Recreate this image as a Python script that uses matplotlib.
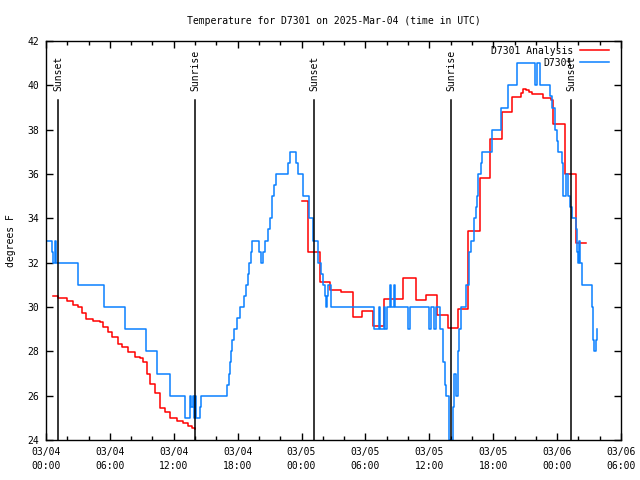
import matplotlib
matplotlib.use("Agg")
import matplotlib.pyplot as plt
import matplotlib.transforms as mtransforms
import numpy as np

plt.rcParams['font.family'] = ['DejaVu Sans Mono']
plt.rcParams['font.size'] = 7

# hours since 03/04 00:00 UTC
obs_hours = [0.09, 0.59, 0.69, 0.85, 0.94, 3.05, 5.40, 7.42, 9.39, 10.47, 11.65, 13.10, 13.52, 13.66,
             13.81, 13.90, 14.04, 14.13, 14.42, 14.56, 16.97, 17.14, 17.28, 17.37, 17.47, 17.68, 17.94,
             18.22, 18.60, 18.78, 18.97, 19.11, 19.21, 19.30, 20.00, 20.19, 20.38, 20.57, 20.85, 21.04,
             21.18, 21.37, 21.60, 22.68, 22.92, 23.48, 23.62, 24.14, 24.70, 25.03, 25.54, 25.78, 25.97,
             26.20, 26.30, 26.39, 26.53, 26.72, 30.85, 31.32, 31.41, 31.74, 31.83, 32.02, 32.31, 32.40,
             32.64, 32.82, 33.95, 34.14, 35.97, 36.16, 36.44, 36.58, 36.96, 37.24, 37.33, 37.43, 37.52,
             37.89, 38.18, 38.32, 38.46, 38.65, 38.79, 38.93, 39.49, 39.68, 39.87, 40.15, 40.34, 40.45,
             40.60, 40.81, 40.92, 41.93, 42.73, 43.42, 44.19, 45.92, 46.07, 46.35, 47.33, 47.49, 47.80,
             47.99, 48.11, 48.46, 48.58, 48.83, 49.05, 49.21, 49.37, 49.73, 49.84, 49.99, 50.06, 50.15,
             50.31, 51.23, 51.34, 51.47, 51.61, 51.78]
obs_temps = [33, 32.5, 32, 33, 32, 31, 30, 29, 28, 27, 26, 25, 26, 25.5,
             26, 25, 26, 25, 25.5, 26, 26.5, 27, 27.5, 28, 28.5, 29, 29.5,
             30, 30.5, 31, 31.5, 32, 32.5, 33, 32.5, 32, 32.5, 33, 33.5, 34,
             35, 35.5, 36, 36.5, 37, 36.5, 36, 35, 34, 33, 32, 31.5, 31,
             30.5, 30, 30.5, 31, 30, 29, 30, 29, 30, 29, 30, 31, 30,
             31, 30, 29, 30, 29, 30, 29, 30, 29, 28.5, 27.5, 26.5, 26,
             24, 25.5, 27, 26, 28, 29, 30, 31, 32.5, 33, 34, 34.5, 35,
             36, 36.5, 37, 38, 39, 40, 41, 40, 41, 40, 39.5, 39, 38,
             37.5, 37, 36.5, 35, 36, 35, 34.5, 34, 33.5, 32.5, 32, 33, 32,
             31, 30, 28.5, 28, 28.5, 29]

ana_hours = [0.63, 1.16, 1.94, 2.56, 3.03, 3.35, 3.76, 4.44, 5.07, 5.38, 5.85, 6.17, 6.73, 7.11,
             7.73, 8.36, 8.83, 9.14, 9.46, 9.77, 10.24, 10.71, 11.18, 11.65, 12.27, 12.89, 13.36,
             13.68, 13.99, 14.00,
             24.04, 24.63, 25.73, 26.67, 27.68, 28.80, 29.71, 30.68, 31.77, 33.56, 34.72, 35.66,
             36.69, 37.78, 38.72, 39.66, 40.74, 41.74, 42.80, 43.81, 44.61, 44.75, 45.08, 45.39,
             45.61, 46.70, 47.43, 47.65, 48.74, 49.73, 50.71]
ana_temps = [30.5, 30.4, 30.29, 30.09, 29.99, 29.72, 29.45, 29.38, 29.34, 29.11, 28.89, 28.66, 28.33, 28.21,
             27.96, 27.76, 27.69, 27.54, 27.0, 26.53, 26.1, 25.46, 25.28, 24.98, 24.87, 24.76, 24.63,
             24.54, 24.51, np.nan,
             34.8, 32.5, 31.15, 30.75, 30.68, 29.57, 29.8, 29.15, 30.36, 31.3, 30.33, 30.54,
             29.65, 29.04, 29.9, 33.45, 35.84, 37.58, 38.81, 39.46, 39.65, 39.82, 39.79, 39.7,
             39.6, 39.42, 39.35, 38.26, 36.0, 32.9, 32.9]

sun_hours = [1.155, 14.02, 25.2, 38.0, 49.27]
sun_labels = ['Sunset', 'Sunrise', 'Sunset', 'Sunrise', 'Sunset']

tick_hours = [0, 6, 12, 18, 24, 30, 36, 42, 48, 54]
tick_labels = ['03/04\n00:00', '03/04\n06:00', '03/04\n12:00', '03/04\n18:00', '03/05\n00:00',
               '03/05\n06:00', '03/05\n12:00', '03/05\n18:00', '03/06\n00:00', '03/06\n06:00']
y_ticks = [24, 26, 28, 30, 32, 34, 36, 38, 40, 42]

fig = plt.figure(figsize=(6.4, 4.8), dpi=100)
ax = fig.add_axes([46/640, 40/480, 575/640, 399/480])

ax.plot(ana_hours, ana_temps, drawstyle='steps-post', color='#ff0000', lw=1.1, label='D7301 Analysis')
ax.plot(obs_hours, obs_temps, drawstyle='steps-post', color='#0a80ff', lw=1.1, label='D7301')

trans = mtransforms.blended_transform_factory(ax.transData, ax.transAxes)
for h, lab in zip(sun_hours, sun_labels):
    ax.axvline(h, ymin=0, ymax=0.852, color='black', lw=1.1)
    ax.text(h + 0.05, 0.874, lab, transform=trans, rotation=90, ha='center', va='bottom', fontsize=7)

ax.set_xlim(0, 54)
ax.set_ylim(24, 42)
ax.set_xticks(tick_hours)
ax.set_xticklabels(tick_labels, linespacing=1.5)
ax.set_xticks(np.arange(0, 55, 2), minor=True)
ax.set_yticks(y_ticks)
ax.tick_params(axis='both', which='major', direction='in', length=5, width=1, top=True, right=True)
ax.tick_params(axis='x', which='minor', direction='in', length=3, width=1, top=True, bottom=True)
ax.tick_params(axis='x', which='major', pad=5)
ax.tick_params(axis='y', which='major', pad=5)
for s in ax.spines.values():
    s.set_linewidth(1)

ax.set_title('Temperature for D7301 on 2025-Mar-04 (time in UTC)', fontsize=7, pad=12)
ax.set_ylabel('degrees F', fontsize=7, labelpad=8)

ax.legend(loc='upper right', bbox_to_anchor=(1 - 7/575, 1), frameon=False, markerfirst=False,
          handlelength=3.0, handletextpad=0.7, labelspacing=0.2, borderaxespad=0.3, borderpad=0.2,
          fontsize=7)

fig.savefig('out.png', dpi=100)
